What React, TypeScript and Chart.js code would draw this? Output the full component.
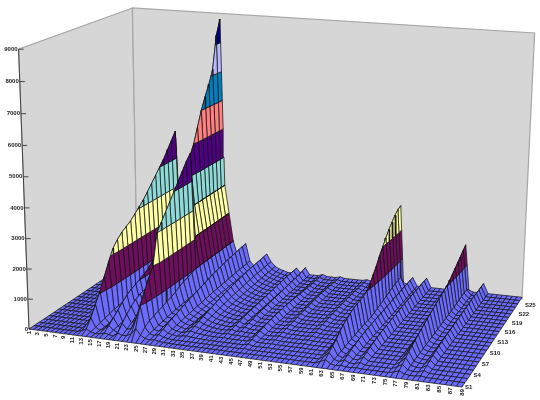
import React, { useEffect, useRef } from "react";
import { Chart, registerables } from "chart.js";
Chart.register(...registerables);

const categoryCount = 89;
const seriesCount = 25;
const zTicks = [0, 1000, 2000, 3000, 4000, 5000, 6000, 7000, 8000, 9000];
const categoryTicks = [1,3,5,7,9,11,13,15,17,19,21,23,25,27,29,31,33,35,37,39,41,43,45,47,49,51,53,55,57,59,61,63,65,67,69,71,73,75,77,79,81,83,85,87,89];
const seriesTicks = [1, 4, 7, 10, 13, 16, 19, 22, 25];
const bandColors = ["#6B6BFF", "#6E0F5E", "#FFFFA6", "#8FDAD8", "#4F0085", "#FF8080", "#0080C0", "#B8B8FF", "#00007F"];

// ground level per series (S1..S25), used where a category has no column below
const ground = [0,0,0,0,5,5,10,10,15,15,20,20,25,25,30,30,35,35,40,40,45,45,50,55,60];

// values of individual categories, S1..S25
const cat12 = [0,50,140,260,400,580,740,860,960,1020,1060,1100,1160,1220,1300,1360,1440,1500,1580,1660,1780,1900,1980,640,120];
const cat13 = [0,120,380,720,1050,1450,1850,2200,2400,2550,2650,2750,2900,3050,3200,3400,3600,3800,4000,4200,4450,4700,4950,1600,300];
const cat14 = [0,40,80,120,160,200,240,260,280,290,300,320,340,360,380,400,420,440,460,480,500,520,540,300,120];
const cat16 = [0,20,70,120,180,230,270,310,330,360,390,420,470,520,610,720,840,980,1120,1260,1370,1400,1190,520,100];
const cat17 = [0,60,200,350,500,650,780,880,950,1020,1100,1200,1350,1500,1750,2050,2400,2800,3200,3600,3900,4000,3400,1500,300];
const cat18 = [0,30,60,90,120,160,200,240,260,270,280,300,340,380,420,480,560,640,700,760,800,820,700,400,150];
const cat20 = [0,120,330,520,680,800,880,920,950,970,1000,1100,1300,1600,1900,2300,2700,3100,3500,3800,4100,4400,4700,5000,5400];
const cat21 = [0,60,150,250,350,450,500,560,620,680,750,850,1000,1200,1500,1800,2000,2200,2400,2600,2800,3000,3200,3500,3800];
const cat22 = [0,80,200,400,600,800,1000,1200,1400,1600,1900,2200,2600,3000,3600,4300,4650,5000,5500,6000,6400,6750,7200,8300,8800];
const cat23 = [0,150,500,800,1100,1400,1900,2100,2300,2500,2700,2900,3000,3000,3000,3000,3000,3000,3000,3000,3000,3000,3000,3000,3000];
const cat24 = [0,350,1000,1350,1700,2000,3000,3250,3500,3750,4000,4250,4500,4750,4950,2000,2000,2000,2000,2000,2000,2000,2000,2000,2000];
const cat25 = [0,150,300,400,450,500,550,600,650,700,800,850,900,950,1000,1000,1000,1000,1000,1000,1000,1000,1000,1000,1000];
const cat26 = [0,60,100,130,160,180,200,220,240,250,260,270,280,290,300,320,340,360,380,400,420,440,460,480,500];
const cat27 = [0,30,60,90,120,150,180,200,220,250,270,290,310,330,350,370,390,400,410,430,440,450,460,470,480];
const cat28 = [0,60,120,180,240,300,350,400,450,500,540,580,620,660,700,740,770,800,830,860,880,900,920,940,950];
const cat29 = [0,20,40,60,80,100,120,140,150,170,190,200,220,230,250,260,270,280,290,300,310,320,320,330,330];
const cat30 = [0,10,20,30,40,50,60,70,75,85,95,100,110,115,125,130,135,140,145,150,155,160,160,165,165];
const cat32 = [0,0,0,30,50,70,100,120,140,160,180,200,220,230,250,260,270,280,290,300,310,310,320,320,330];
const cat33 = [0,0,0,50,100,150,200,240,280,320,360,400,430,460,490,520,540,560,580,600,610,620,630,640,650];
const cat34 = [0,0,0,30,60,90,120,150,170,190,220,240,260,280,290,310,320,340,350,360,370,370,380,380,390];
const cat35 = [0,0,0,20,40,50,70,80,90,110,120,140,150,160,170,180,190,200,200,210,210,220,220,220,230];
const cat36 = [0,0,0,10,20,30,40,50,60,70,80,90,100,100,110,110,120,120,130,130,140,140,140,150,150];
const cat37 = [0,0,0,5,10,15,20,30,30,40,40,50,50,60,60,70,70,80,80,90,90,100,100,100,110];
const cat40 = [0,0,0,0,20,40,60,80,100,120,140,150,160,170,180,190,200,210,220,230,240,250,250,250,250];
const cat42 = [0,0,0,0,0,20,40,60,80,100,120,130,140,150,160,170,180,190,200,210,220,230,240,270,300];
const cat46 = [0,0,20,50,80,110,130,150,170,180,190,200,200,200,190,180,170,160,150,140,130,120,120,120,120];
const cat50 = [0,0,0,10,20,30,40,50,60,70,80,90,100,110,120,130,140,150,150,140,130,120,110,100,100];
const cat56 = [0,0,0,0,10,20,30,40,50,60,70,80,90,100,100,110,110,120,120,120,120,110,100,100,100];
const cat62 = [0,60,100,140,170,230,270,300,330,350,360,370,380,400,460,540,620,720,800,900,960,1020,1080,1120,1140];
const cat63 = [0,150,250,350,430,570,680,750,820,880,900,920,940,1000,1150,1350,1550,1800,2000,2200,2400,2550,2700,2800,2850];
const cat64 = [0,30,50,60,70,90,100,110,120,130,140,140,140,150,170,200,230,270,300,340,380,400,420,440,150];
const cat66 = [0,30,80,130,170,200,230,250,270,280,290,300,300,310,310,320,320,330,330,340,340,340,350,350,350];
const cat69 = [0,20,60,110,150,190,220,250,270,290,300,310,320,330,340,350,350,360,360,370,370,370,380,380,380];
const cat76 = [0,40,70,100,130,160,180,210,230,260,280,300,320,340,350,370,390,410,440,480,520,560,600,640,680];
const cat77 = [0,100,180,260,330,400,460,520,580,640,690,740,790,840,880,920,970,1020,1100,1200,1300,1400,1500,1600,1700];
const cat78 = [0,20,30,40,50,60,70,80,90,100,100,110,120,130,130,140,150,150,170,180,200,210,230,240,120];
const cat81 = [0,30,70,110,150,180,210,230,250,270,280,290,300,310,320,330,340,350,360,370,380,380,390,390,400];

const columns: Record<number, number[]> = {
  12: cat12, 13: cat13, 14: cat14, 16: cat16, 17: cat17, 18: cat18, 20: cat20, 21: cat21, 22: cat22, 23: cat23,
  24: cat24, 25: cat25, 26: cat26, 27: cat27, 28: cat28, 29: cat29, 30: cat30, 32: cat32, 33: cat33, 34: cat34,
  35: cat35, 36: cat36, 37: cat37, 40: cat40, 42: cat42, 46: cat46, 50: cat50, 56: cat56, 62: cat62, 63: cat63,
  64: cat64, 66: cat66, 69: cat69, 76: cat76, 77: cat77, 78: cat78, 81: cat81,
};
const valueAt = (cat: number, ser: number) => (columns[cat] ? columns[cat][ser - 1] : ground[ser - 1]);

// camera: floor corners, vertical vanishing point and height gain
const cornerA = [29, 329], cornerB = [462, 387], cornerC = [522, 299], cornerD = [137, 258];
const vanish = [245, 6132];
const zGain = 0.046 / 9000;
const zMax = 9000;
const depthU = -0.072, depthV = 0.1268;

type P = { x: number; y: number };
function project(u: number, v: number, z: number): P {
  const [x0, y0] = cornerA, [x1, y1] = cornerB, [x2, y2] = cornerC, [x3, y3] = cornerD;
  const dx1 = x1 - x2, dy1 = y1 - y2, dx2 = x3 - x2, dy2 = y3 - y2;
  const sx = x0 - x1 + x2 - x3, sy = y0 - y1 + y2 - y3;
  const det = dx1 * dy2 - dx2 * dy1;
  const g = (sx * dy2 - dx2 * sy) / det, h = (dx1 * sy - sx * dy1) / det;
  const a = x1 - x0 + g * x1, b = x3 - x0 + h * x3, d = y1 - y0 + g * y1, e = y3 - y0 + h * y3;
  const w = g * u + h * v + 1;
  const fx = (a * u + b * v + x0) / w, fy = (d * u + e * v + y0) / w;
  const depth = 1 + depthU * u + depthV * v;
  const t = (zGain * z) / (depth - zGain * z);
  return { x: fx + (fx - vanish[0]) * t, y: fy + (fy - vanish[1]) * t };
}
const catU = (c: number) => (c - 1) / (categoryCount - 1);
const serV = (s: number) => (s - 1) / (seriesCount - 1);

type V3 = { u: number; v: number; z: number };
function clipBand(poly: V3[], lo: number, hi: number): V3[] {
  const clip = (pts: V3[], lim: number, keepAbove: boolean) => {
    const out: V3[] = [];
    for (let i = 0; i < pts.length; i++) {
      const a = pts[i], b = pts[(i + 1) % pts.length];
      const ina = keepAbove ? a.z >= lim : a.z <= lim;
      const inb = keepAbove ? b.z >= lim : b.z <= lim;
      if (ina) out.push(a);
      if (ina !== inb) {
        const f = (lim - a.z) / (b.z - a.z);
        out.push({ u: a.u + (b.u - a.u) * f, v: a.v + (b.v - a.v) * f, z: lim });
      }
    }
    return out;
  };
  return clip(clip(poly, lo, true), hi, false);
}

function polyDataset(pts: P[], fill: string | null, stroke: string, width: number) {
  return {
    data: pts,
    showLine: true,
    pointRadius: 0,
    pointHoverRadius: 0,
    tension: 0,
    borderColor: stroke,
    borderWidth: width,
    backgroundColor: fill ?? "transparent",
    fill: fill ? "shape" : false,
    clip: false,
  };
}

function buildDatasets() {
  const painted: any[] = [];
  const wallFill = "#D6D6D6", wallEdge = "#A6A6A6";
  const wallPts = (a: number[], b: number[]) => [
    project(a[0], a[1], 0), project(b[0], b[1], 0), project(b[0], b[1], zMax), project(a[0], a[1], zMax), project(a[0], a[1], 0),
  ];
  painted.push(polyDataset(wallPts([0, 0], [0, 1]), wallFill, wallEdge, 1.2));
  painted.push(polyDataset(wallPts([0, 1], [1, 1]), wallFill, wallEdge, 1.2));
  painted.push(polyDataset([project(0, 0, 0), project(0, 0, zMax)], null, "#444444", 1));
  for (const t of zTicks) {
    const p = project(0, 0, t);
    painted.push(polyDataset([p, { x: p.x + 5, y: p.y }], null, "#444444", 1));
  }
  for (let s = seriesCount - 1; s >= 1; s--) {
    for (let c = 1; c < categoryCount; c++) {
      const quad: V3[] = [
        { u: catU(c), v: serV(s), z: valueAt(c, s) },
        { u: catU(c + 1), v: serV(s), z: valueAt(c + 1, s) },
        { u: catU(c + 1), v: serV(s + 1), z: valueAt(c + 1, s + 1) },
        { u: catU(c), v: serV(s + 1), z: valueAt(c, s + 1) },
      ];
      bandColors.forEach((color, b) => {
        const piece = clipBand(quad, b * 1000, (b + 1) * 1000);
        if (piece.length < 3) return;
        const pts = piece.map((q) => project(q.u, q.v, q.z));
        pts.push(pts[0]);
        painted.push(polyDataset(pts, color, "#161616", 0.75));
      });
    }
  }
  return painted.reverse();
}

const labelPlugin = {
  id: "axisText",
  afterDatasetsDraw(chart: any) {
    const { ctx, scales } = chart;
    const X = (p: P) => scales.x.getPixelForValue(p.x), Y = (p: P) => scales.y.getPixelForValue(p.y);
    ctx.save();
    ctx.fillStyle = "#222222";
    ctx.font = "bold 6px 'Liberation Sans'";
    ctx.textBaseline = "middle";
    ctx.textAlign = "right";
    for (const t of zTicks) {
      const p = project(0, 0, t);
      ctx.fillText(String(t), X(p) - 1, Y(p));
    }
    ctx.textAlign = "left";
    for (const s of seriesTicks) {
      const p = project(1, serV(s), 0);
      ctx.fillText("S" + s, X(p) + 3, Y(p) + 6 * serV(s));
    }
    ctx.textAlign = "right";
    for (const c of categoryTicks) {
      const p = project(catU(c), 0, 0);
      ctx.save();
      ctx.translate(X(p), Y(p) + 2);
      ctx.rotate(-Math.PI / 2);
      ctx.fillText(String(c), 0, 0);
      ctx.restore();
    }
    ctx.restore();
  },
};

export default function App() {
  const ref = useRef<HTMLCanvasElement | null>(null);
  useEffect(() => {
    const chart = new Chart(ref.current as HTMLCanvasElement, {
      type: "scatter",
      data: { datasets: buildDatasets() },
      plugins: [labelPlugin],
      options: {
        animation: false,
        responsive: false,
        events: [],
        layout: { padding: 0 },
        parsing: false,
        plugins: { legend: { display: false }, tooltip: { enabled: false }, title: { display: false } },
        scales: {
          x: { type: "linear", min: 0, max: 540, display: false },
          y: { type: "linear", min: 0, max: 400, reverse: true, display: false },
        },
      },
    } as any);
    return () => chart.destroy();
  }, []);
  return (
    <div style={{ position: "fixed", left: 0, top: 0, width: 540, height: 400, background: "#fff" }}>
      <canvas ref={ref} width={540} height={400} style={{ display: "block" }} />
    </div>
  );
}
